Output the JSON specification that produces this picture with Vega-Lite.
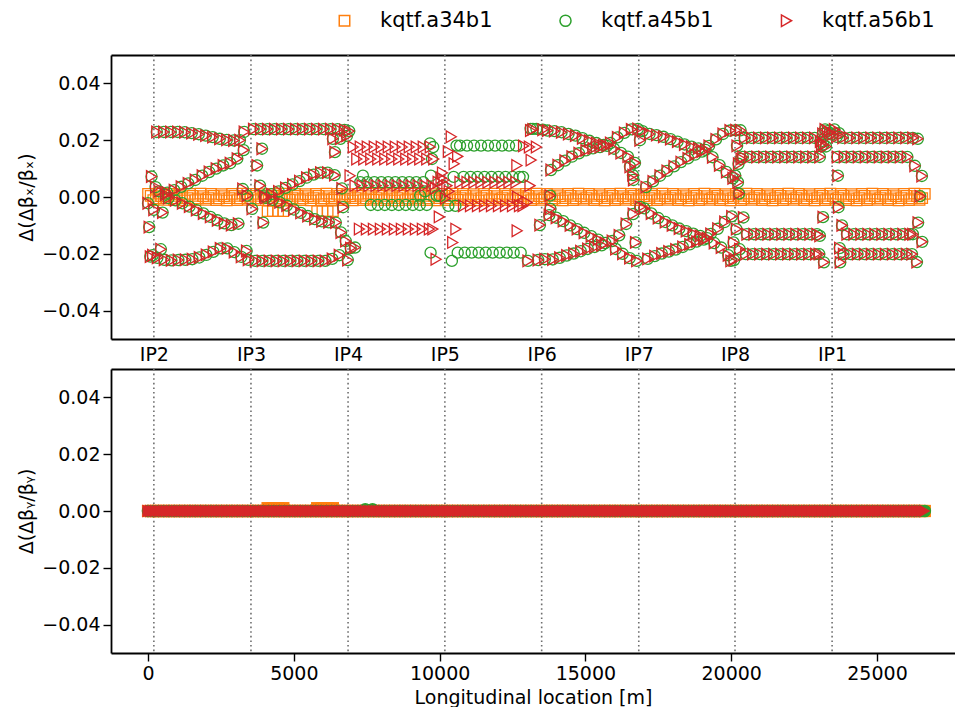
{
  "$schema": "https://vega.github.io/schema/vega-lite/v6.json",
  "background": "white",
  "padding": {"left": 17, "top": 10, "right": 0, "bottom": 0},
  "spacing": 30,
  "bounds": "flush",
  "resolve": {"scale": {"color": "independent", "shape": "independent", "size": "independent"}, "legend": {"color": "independent", "shape": "independent"}},
  "datasets": {
    "ips": [
      {"s": 200, "ip": "IP2"}, {"s": 3530, "ip": "IP3"}, {"s": 6860, "ip": "IP4"}, {"s": 10180, "ip": "IP5"},
      {"s": 13500, "ip": "IP6"}, {"s": 16830, "ip": "IP7"}, {"s": 20130, "ip": "IP8"}, {"s": 23460, "ip": "IP1"}
    ],
    "twiss": [
      {"s":0,"a34":0.0011,"y34":0,"y45":0,"y56":0},{"s":180,"a34":-0.0011,"y34":0,"y45":0,"y56":0},{"s":360,"a34":0.0012,"y34":0,"y45":0,"y56":0},{"s":540,"a34":-0.0010,"y34":0,"y45":0,"y56":0},
      {"s":720,"a34":0.0011,"y34":0,"y45":0,"y56":0},{"s":900,"a34":-0.0011,"y34":0,"y45":0,"y56":0},{"s":1080,"a34":0.0010,"y34":0,"y45":0,"y56":0},{"s":1260,"a34":-0.0012,"y34":0,"y45":0,"y56":0},
      {"s":1440,"a34":0.0011,"y34":0,"y45":0,"y56":0},{"s":1620,"a34":-0.0011,"y34":0,"y45":0,"y56":0},{"s":1800,"a34":0.0012,"y34":0,"y45":0,"y56":0},{"s":1980,"a34":-0.0010,"y34":0,"y45":0,"y56":0},
      {"s":2160,"a34":0.0011,"y34":0,"y45":0,"y56":0},{"s":2340,"a34":-0.0011,"y34":0,"y45":0,"y56":0},{"s":2520,"a34":0.0010,"y34":0,"y45":0,"y56":0},{"s":2700,"a34":-0.0012,"y34":0,"y45":0,"y56":0},
      {"s":2880,"a34":0.0011,"y34":0,"y45":0,"y56":0},{"s":3060,"a34":-0.0011,"y34":0,"y45":0,"y56":0},{"s":3240,"a34":0.0012,"y34":0,"y45":0,"y56":0},{"s":3420,"a34":-0.0010,"y34":0,"y45":0,"y56":0},
      {"s":3600,"a34":0.0011,"y34":0,"y45":0,"y56":0},{"s":3780,"a34":-0.0011,"y34":0,"y45":0,"y56":0},{"s":3960,"a34":0.0010,"y34":0,"y45":0,"y56":0},{"s":4140,"a34":-0.0012,"y34":0,"y45":0,"y56":0},
      {"s":4320,"a34":0.0011,"y34":0,"y45":0,"y56":0},{"s":4500,"a34":-0.0011,"y34":0,"y45":0,"y56":0},{"s":4680,"a34":0.0012,"y34":0,"y45":0,"y56":0},{"s":4860,"a34":-0.0010,"y34":0,"y45":0,"y56":0},
      {"s":5040,"a34":0.0011,"y34":0,"y45":0,"y56":0},{"s":5220,"a34":-0.0011,"y34":0,"y45":0,"y56":0},{"s":5400,"a34":0.0010,"y34":0,"y45":0,"y56":0},{"s":5580,"a34":-0.0012,"y34":0,"y45":0,"y56":0},
      {"s":5760,"a34":0.0011,"y34":0,"y45":0,"y56":0},{"s":5940,"a34":-0.0011,"y34":0,"y45":0,"y56":0},{"s":6120,"a34":0.0012,"y34":0,"y45":0,"y56":0},{"s":6300,"a34":-0.0010,"y34":0,"y45":0,"y56":0},
      {"s":6480,"a34":0.0011,"y34":0,"y45":0,"y56":0},{"s":6660,"a34":-0.0011,"y34":0,"y45":0,"y56":0},{"s":6840,"a34":0.0010,"y34":0,"y45":0,"y56":0},{"s":7020,"a34":-0.0012,"y34":0,"y45":0,"y56":0},
      {"s":7200,"a34":0.0011,"y34":0,"y45":0,"y56":0},{"s":7380,"a34":-0.0011,"y34":0,"y45":0,"y56":0},{"s":7560,"a34":0.0012,"y34":0,"y45":0,"y56":0},{"s":7740,"a34":-0.0010,"y34":0,"y45":0,"y56":0},
      {"s":7920,"a34":0.0011,"y34":0,"y45":0,"y56":0},{"s":8100,"a34":-0.0011,"y34":0,"y45":0,"y56":0},{"s":8280,"a34":0.0010,"y34":0,"y45":0,"y56":0},{"s":8460,"a34":-0.0012,"y34":0,"y45":0,"y56":0},
      {"s":8640,"a34":0.0011,"y34":0,"y45":0,"y56":0},{"s":8820,"a34":-0.0011,"y34":0,"y45":0,"y56":0},{"s":9000,"a34":0.0012,"y34":0,"y45":0,"y56":0},{"s":9180,"a34":-0.0010,"y34":0,"y45":0,"y56":0},
      {"s":9360,"a34":0.0011,"y34":0,"y45":0,"y56":0},{"s":9540,"a34":-0.0011,"y34":0,"y45":0,"y56":0},{"s":9720,"a34":0.0010,"y34":0,"y45":0,"y56":0},{"s":9900,"a34":-0.0012,"y34":0,"y45":0,"y56":0},
      {"s":10080,"a34":0.0011,"y34":0,"y45":0,"y56":0},{"s":10260,"a34":-0.0011,"y34":0,"y45":0,"y56":0},{"s":10440,"a34":0.0012,"y34":0,"y45":0,"y56":0},{"s":10620,"a34":-0.0010,"y34":0,"y45":0,"y56":0},
      {"s":10800,"a34":0.0011,"y34":0,"y45":0,"y56":0},{"s":10980,"a34":-0.0011,"y34":0,"y45":0,"y56":0},{"s":11160,"a34":0.0010,"y34":0,"y45":0,"y56":0},{"s":11340,"a34":-0.0012,"y34":0,"y45":0,"y56":0},
      {"s":11520,"a34":0.0011,"y34":0,"y45":0,"y56":0},{"s":11700,"a34":-0.0011,"y34":0,"y45":0,"y56":0},{"s":11880,"a34":0.0012,"y34":0,"y45":0,"y56":0},{"s":12060,"a34":-0.0010,"y34":0,"y45":0,"y56":0},
      {"s":12240,"a34":0.0011,"y34":0,"y45":0,"y56":0},{"s":12420,"a34":-0.0011,"y34":0,"y45":0,"y56":0},{"s":12600,"a34":0.0010,"y34":0,"y45":0,"y56":0},{"s":12780,"a34":-0.0012,"y34":0,"y45":0,"y56":0},
      {"s":12960,"a34":0.0011,"y34":0,"y45":0,"y56":0},{"s":13140,"a34":-0.0011,"y34":0,"y45":0,"y56":0},{"s":13320,"a34":0.0012,"y34":0,"y45":0,"y56":0},{"s":13500,"a34":-0.0010,"y34":0,"y45":0,"y56":0},
      {"s":13680,"a34":0.0011,"y34":0,"y45":0,"y56":0},{"s":13860,"a34":-0.0011,"y34":0,"y45":0,"y56":0},{"s":14040,"a34":0.0010,"y34":0,"y45":0,"y56":0},{"s":14220,"a34":-0.0012,"y34":0,"y45":0,"y56":0},
      {"s":14400,"a34":0.0011,"y34":0,"y45":0,"y56":0},{"s":14580,"a34":-0.0011,"y34":0,"y45":0,"y56":0},{"s":14760,"a34":0.0012,"y34":0,"y45":0,"y56":0},{"s":14940,"a34":-0.0010,"y34":0,"y45":0,"y56":0},
      {"s":15120,"a34":0.0011,"y34":0,"y45":0,"y56":0},{"s":15300,"a34":-0.0011,"y34":0,"y45":0,"y56":0},{"s":15480,"a34":0.0010,"y34":0,"y45":0,"y56":0},{"s":15660,"a34":-0.0012,"y34":0,"y45":0,"y56":0},
      {"s":15840,"a34":0.0011,"y34":0,"y45":0,"y56":0},{"s":16020,"a34":-0.0011,"y34":0,"y45":0,"y56":0},{"s":16200,"a34":0.0012,"y34":0,"y45":0,"y56":0},{"s":16380,"a34":-0.0010,"y34":0,"y45":0,"y56":0},
      {"s":16560,"a34":0.0011,"y34":0,"y45":0,"y56":0},{"s":16740,"a34":-0.0011,"y34":0,"y45":0,"y56":0},{"s":16920,"a34":0.0010,"y34":0,"y45":0,"y56":0},{"s":17100,"a34":-0.0012,"y34":0,"y45":0,"y56":0},
      {"s":17280,"a34":0.0011,"y34":0,"y45":0,"y56":0},{"s":17460,"a34":-0.0011,"y34":0,"y45":0,"y56":0},{"s":17640,"a34":0.0012,"y34":0,"y45":0,"y56":0},{"s":17820,"a34":-0.0010,"y34":0,"y45":0,"y56":0},
      {"s":18000,"a34":0.0011,"y34":0,"y45":0,"y56":0},{"s":18180,"a34":-0.0011,"y34":0,"y45":0,"y56":0},{"s":18360,"a34":0.0010,"y34":0,"y45":0,"y56":0},{"s":18540,"a34":-0.0012,"y34":0,"y45":0,"y56":0},
      {"s":18720,"a34":0.0011,"y34":0,"y45":0,"y56":0},{"s":18900,"a34":-0.0011,"y34":0,"y45":0,"y56":0},{"s":19080,"a34":0.0012,"y34":0,"y45":0,"y56":0},{"s":19260,"a34":-0.0010,"y34":0,"y45":0,"y56":0},
      {"s":19440,"a34":0.0011,"y34":0,"y45":0,"y56":0},{"s":19620,"a34":-0.0011,"y34":0,"y45":0,"y56":0},{"s":19800,"a34":0.0010,"y34":0,"y45":0,"y56":0},{"s":19980,"a34":-0.0012,"y34":0,"y45":0,"y56":0},
      {"s":20160,"a34":0.0011,"y34":0,"y45":0,"y56":0},{"s":20340,"a34":-0.0011,"y34":0,"y45":0,"y56":0},{"s":20520,"a34":0.0012,"y34":0,"y45":0,"y56":0},{"s":20700,"a34":-0.0010,"y34":0,"y45":0,"y56":0},
      {"s":20880,"a34":0.0011,"y34":0,"y45":0,"y56":0},{"s":21060,"a34":-0.0011,"y34":0,"y45":0,"y56":0},{"s":21240,"a34":0.0010,"y34":0,"y45":0,"y56":0},{"s":21420,"a34":-0.0012,"y34":0,"y45":0,"y56":0},
      {"s":21600,"a34":0.0011,"y34":0,"y45":0,"y56":0},{"s":21780,"a34":-0.0011,"y34":0,"y45":0,"y56":0},{"s":21960,"a34":0.0012,"y34":0,"y45":0,"y56":0},{"s":22140,"a34":-0.0010,"y34":0,"y45":0,"y56":0},
      {"s":22320,"a34":0.0011,"y34":0,"y45":0,"y56":0},{"s":22500,"a34":-0.0011,"y34":0,"y45":0,"y56":0},{"s":22680,"a34":0.0010,"y34":0,"y45":0,"y56":0},{"s":22860,"a34":-0.0012,"y34":0,"y45":0,"y56":0},
      {"s":23040,"a34":0.0011,"y34":0,"y45":0,"y56":0},{"s":23220,"a34":-0.0011,"y34":0,"y45":0,"y56":0},{"s":23400,"a34":0.0012,"y34":0,"y45":0,"y56":0},{"s":23580,"a34":-0.0010,"y34":0,"y45":0,"y56":0},
      {"s":23760,"a34":0.0011,"y34":0,"y45":0,"y56":0},{"s":23940,"a34":-0.0011,"y34":0,"y45":0,"y56":0},{"s":24120,"a34":0.0010,"y34":0,"y45":0,"y56":0},{"s":24300,"a34":-0.0012,"y34":0,"y45":0,"y56":0},
      {"s":24480,"a34":0.0011,"y34":0,"y45":0,"y56":0},{"s":24660,"a34":-0.0011,"y34":0,"y45":0,"y56":0},{"s":24840,"a34":0.0012,"y34":0,"y45":0,"y56":0},{"s":25020,"a34":-0.0010,"y34":0,"y45":0,"y56":0},
      {"s":25200,"a34":0.0011,"y34":0,"y45":0,"y56":0},{"s":25380,"a34":-0.0011,"y34":0,"y45":0,"y56":0},{"s":25560,"a34":0.0010,"y34":0,"y45":0,"y56":0},{"s":25740,"a34":-0.0012,"y34":0,"y45":0,"y56":0},
      {"s":25920,"a34":0.0011,"y34":0,"y45":0,"y56":0},{"s":26100,"a34":-0.0011,"y34":0,"y45":0,"y56":0},{"s":26280,"a34":0.0012,"y34":0,"y45":0,"y56":0},{"s":26460,"a34":-0.0010,"y34":0,"y45":0,"y56":0},
      {"s":26640,"a34":0.0011,"y34":0,"y45":0,"y56":0},

      {"s":90,"a34":0.0004,"y34":0,"y56":0},{"s":270,"a34":-0.0005,"y34":0,"y56":0},{"s":450,"a34":0.0003,"y34":0,"y56":0},{"s":630,"a34":-0.0004,"y34":0,"y56":0},
      {"s":810,"a34":0.0004,"y34":0,"y56":0},{"s":990,"a34":-0.0005,"y34":0,"y56":0},{"s":1170,"a34":0.0003,"y34":0,"y56":0},{"s":1350,"a34":-0.0004,"y34":0,"y56":0},
      {"s":1530,"a34":0.0004,"y34":0,"y56":0},{"s":1710,"a34":-0.0005,"y34":0,"y56":0},{"s":1890,"a34":0.0003,"y34":0,"y56":0},{"s":2070,"a34":-0.0004,"y34":0,"y56":0},
      {"s":2250,"a34":0.0004,"y34":0,"y56":0},{"s":2430,"a34":-0.0005,"y34":0,"y56":0},{"s":2610,"a34":0.0003,"y34":0,"y56":0},{"s":2790,"a34":-0.0004,"y34":0,"y56":0},
      {"s":2970,"a34":0.0004,"y34":0,"y56":0},{"s":3150,"a34":-0.0005,"y34":0,"y56":0},{"s":3330,"a34":0.0003,"y34":0,"y56":0},{"s":3510,"a34":-0.0004,"y34":0,"y56":0},
      {"s":3690,"a34":0.0004,"y34":0,"y56":0},{"s":3870,"a34":-0.0005,"y34":0,"y56":0},{"s":4050,"a34":0.0003,"y34":0,"y56":0},{"s":4230,"a34":-0.0004,"y34":0,"y56":0},
      {"s":4410,"a34":0.0004,"y34":0,"y56":0},{"s":4590,"a34":-0.0005,"y34":0,"y56":0},{"s":4770,"a34":0.0003,"y34":0,"y56":0},{"s":4950,"a34":-0.0004,"y34":0,"y56":0},
      {"s":5130,"a34":0.0004,"y34":0,"y56":0},{"s":5310,"a34":-0.0005,"y34":0,"y56":0},{"s":5490,"a34":0.0003,"y34":0,"y56":0},{"s":5670,"a34":-0.0004,"y34":0,"y56":0},
      {"s":5850,"a34":0.0004,"y34":0,"y56":0},{"s":6030,"a34":-0.0005,"y34":0,"y56":0},{"s":6210,"a34":0.0003,"y34":0,"y56":0},{"s":6390,"a34":-0.0004,"y34":0,"y56":0},
      {"s":6570,"a34":0.0004,"y34":0,"y56":0},{"s":6750,"a34":-0.0005,"y34":0,"y56":0},{"s":6930,"a34":0.0003,"y34":0,"y56":0},{"s":7110,"a34":-0.0004,"y34":0,"y56":0},
      {"s":7290,"a34":0.0004,"y34":0,"y56":0},{"s":7470,"a34":-0.0005,"y34":0,"y56":0},{"s":7650,"a34":0.0003,"y34":0,"y56":0},{"s":7830,"a34":-0.0004,"y34":0,"y56":0},
      {"s":8010,"a34":0.0004,"y34":0,"y56":0},{"s":8190,"a34":-0.0005,"y34":0,"y56":0},{"s":8370,"a34":0.0003,"y34":0,"y56":0},{"s":8550,"a34":-0.0004,"y34":0,"y56":0},
      {"s":8730,"a34":0.0004,"y34":0,"y56":0},{"s":8910,"a34":-0.0005,"y34":0,"y56":0},{"s":9090,"a34":0.0003,"y34":0,"y56":0},{"s":9270,"a34":-0.0004,"y34":0,"y56":0},
      {"s":9450,"a34":0.0004,"y34":0,"y56":0},{"s":9630,"a34":-0.0005,"y34":0,"y56":0},{"s":9810,"a34":0.0003,"y34":0,"y56":0},{"s":9990,"a34":-0.0004,"y34":0,"y56":0},
      {"s":10170,"a34":0.0004,"y34":0,"y56":0},{"s":10350,"a34":-0.0005,"y34":0,"y56":0},{"s":10530,"a34":0.0003,"y34":0,"y56":0},{"s":10710,"a34":-0.0004,"y34":0,"y56":0},
      {"s":10890,"a34":0.0004,"y34":0,"y56":0},{"s":11070,"a34":-0.0005,"y34":0,"y56":0},{"s":11250,"a34":0.0003,"y34":0,"y56":0},{"s":11430,"a34":-0.0004,"y34":0,"y56":0},
      {"s":11610,"a34":0.0004,"y34":0,"y56":0},{"s":11790,"a34":-0.0005,"y34":0,"y56":0},{"s":11970,"a34":0.0003,"y34":0,"y56":0},{"s":12150,"a34":-0.0004,"y34":0,"y56":0},
      {"s":12330,"a34":0.0004,"y34":0,"y56":0},{"s":12510,"a34":-0.0005,"y34":0,"y56":0},{"s":12690,"a34":0.0003,"y34":0,"y56":0},{"s":12870,"a34":-0.0004,"y34":0,"y56":0},
      {"s":13050,"a34":0.0004,"y34":0,"y56":0},{"s":13230,"a34":-0.0005,"y34":0,"y56":0},{"s":13410,"a34":0.0003,"y34":0,"y56":0},{"s":13590,"a34":-0.0004,"y34":0,"y56":0},
      {"s":13770,"a34":0.0004,"y34":0,"y56":0},{"s":13950,"a34":-0.0005,"y34":0,"y56":0},{"s":14130,"a34":0.0003,"y34":0,"y56":0},{"s":14310,"a34":-0.0004,"y34":0,"y56":0},
      {"s":14490,"a34":0.0004,"y34":0,"y56":0},{"s":14670,"a34":-0.0005,"y34":0,"y56":0},{"s":14850,"a34":0.0003,"y34":0,"y56":0},{"s":15030,"a34":-0.0004,"y34":0,"y56":0},
      {"s":15210,"a34":0.0004,"y34":0,"y56":0},{"s":15390,"a34":-0.0005,"y34":0,"y56":0},{"s":15570,"a34":0.0003,"y34":0,"y56":0},{"s":15750,"a34":-0.0004,"y34":0,"y56":0},
      {"s":15930,"a34":0.0004,"y34":0,"y56":0},{"s":16110,"a34":-0.0005,"y34":0,"y56":0},{"s":16290,"a34":0.0003,"y34":0,"y56":0},{"s":16470,"a34":-0.0004,"y34":0,"y56":0},
      {"s":16650,"a34":0.0004,"y34":0,"y56":0},{"s":16830,"a34":-0.0005,"y34":0,"y56":0},{"s":17010,"a34":0.0003,"y34":0,"y56":0},{"s":17190,"a34":-0.0004,"y34":0,"y56":0},
      {"s":17370,"a34":0.0004,"y34":0,"y56":0},{"s":17550,"a34":-0.0005,"y34":0,"y56":0},{"s":17730,"a34":0.0003,"y34":0,"y56":0},{"s":17910,"a34":-0.0004,"y34":0,"y56":0},
      {"s":18090,"a34":0.0004,"y34":0,"y56":0},{"s":18270,"a34":-0.0005,"y34":0,"y56":0},{"s":18450,"a34":0.0003,"y34":0,"y56":0},{"s":18630,"a34":-0.0004,"y34":0,"y56":0},
      {"s":18810,"a34":0.0004,"y34":0,"y56":0},{"s":18990,"a34":-0.0005,"y34":0,"y56":0},{"s":19170,"a34":0.0003,"y34":0,"y56":0},{"s":19350,"a34":-0.0004,"y34":0,"y56":0},
      {"s":19530,"a34":0.0004,"y34":0,"y56":0},{"s":19710,"a34":-0.0005,"y34":0,"y56":0},{"s":19890,"a34":0.0003,"y34":0,"y56":0},{"s":20070,"a34":-0.0004,"y34":0,"y56":0},
      {"s":20250,"a34":0.0004,"y34":0,"y56":0},{"s":20430,"a34":-0.0005,"y34":0,"y56":0},{"s":20610,"a34":0.0003,"y34":0,"y56":0},{"s":20790,"a34":-0.0004,"y34":0,"y56":0},
      {"s":20970,"a34":0.0004,"y34":0,"y56":0},{"s":21150,"a34":-0.0005,"y34":0,"y56":0},{"s":21330,"a34":0.0003,"y34":0,"y56":0},{"s":21510,"a34":-0.0004,"y34":0,"y56":0},
      {"s":21690,"a34":0.0004,"y34":0,"y56":0},{"s":21870,"a34":-0.0005,"y34":0,"y56":0},{"s":22050,"a34":0.0003,"y34":0,"y56":0},{"s":22230,"a34":-0.0004,"y34":0,"y56":0},
      {"s":22410,"a34":0.0004,"y34":0,"y56":0},{"s":22590,"a34":-0.0005,"y34":0,"y56":0},{"s":22770,"a34":0.0003,"y34":0,"y56":0},{"s":22950,"a34":-0.0004,"y34":0,"y56":0},
      {"s":23130,"a34":0.0004,"y34":0,"y56":0},{"s":23310,"a34":-0.0005,"y34":0,"y56":0},{"s":23490,"a34":0.0003,"y34":0,"y56":0},{"s":23670,"a34":-0.0004,"y34":0,"y56":0},
      {"s":23850,"a34":0.0004,"y34":0,"y56":0},{"s":24030,"a34":-0.0005,"y34":0,"y56":0},{"s":24210,"a34":0.0003,"y34":0,"y56":0},{"s":24390,"a34":-0.0004,"y34":0,"y56":0},
      {"s":24570,"a34":0.0004,"y34":0,"y56":0},{"s":24750,"a34":-0.0005,"y34":0,"y56":0},{"s":24930,"a34":0.0003,"y34":0,"y56":0},{"s":25110,"a34":-0.0004,"y34":0,"y56":0},
      {"s":25290,"a34":0.0004,"y34":0,"y56":0},{"s":25470,"a34":-0.0005,"y34":0,"y56":0},{"s":25650,"a34":0.0003,"y34":0,"y56":0},{"s":25830,"a34":-0.0004,"y34":0,"y56":0},
      {"s":26010,"a34":0.0004,"y34":0,"y56":0},{"s":26190,"a34":-0.0005,"y34":0,"y56":0},{"s":26370,"a34":0.0003,"y34":0,"y56":0},{"s":26550,"a34":-0.0004,"y34":0,"y56":0},

      {"s":4100,"a34":-0.0050,"y34":0.0010},{"s":4280,"a34":-0.0050,"y34":0.0010},{"s":4460,"a34":-0.0050,"y34":0.0010},{"s":4640,"a34":-0.0050,"y34":0.0010},
      {"s":5800,"a34":-0.0050,"y34":0.0010},{"s":5980,"a34":-0.0050,"y34":0.0010},{"s":6160,"a34":-0.0050,"y34":0.0010},{"s":6340,"a34":-0.0050,"y34":0.0010},
      {"s":7450,"y45":0.0006},{"s":7700,"y45":0.0006},

      {"s":300,"a45":0.0229,"a56":0.0229},{"s":540,"a45":0.0229,"a56":0.0229},{"s":780,"a45":0.0229,"a56":0.0229},{"s":1020,"a45":0.0229,"a56":0.0229},
      {"s":1260,"a45":0.0228,"a56":0.0228},{"s":1500,"a45":0.0225,"a56":0.0225},{"s":1740,"a45":0.0221,"a56":0.0221},{"s":1980,"a45":0.0216,"a56":0.0216},
      {"s":2220,"a45":0.0211,"a56":0.0211},{"s":2460,"a45":0.0205,"a56":0.0205},{"s":2700,"a45":0.0201,"a56":0.0201},{"s":2940,"a45":0.0199,"a56":0.0199},
      {"s":3150,"a45":0.0200,"a56":0.0200},{"s":3300,"a45":0.0229,"a56":0.0229},
      {"s":660,"a45":0.0015,"a56":0.0015},{"s":900,"a45":0.0024,"a56":0.0024},{"s":1140,"a45":0.0036,"a56":0.0036},{"s":1380,"a45":0.0048,"a56":0.0048},
      {"s":1620,"a45":0.0060,"a56":0.0060},{"s":1860,"a45":0.0075,"a56":0.0075},{"s":2100,"a45":0.0088,"a56":0.0088},{"s":2340,"a45":0.0100,"a56":0.0100},
      {"s":2580,"a45":0.0111,"a56":0.0111},{"s":2820,"a45":0.0119,"a56":0.0119},{"s":3060,"a45":0.0135,"a56":0.0135},{"s":3280,"a45":0.0165,"a56":0.0165},
      {"s":700,"a45":-0.0004,"a56":-0.0004},{"s":940,"a45":-0.0012,"a56":-0.0012},{"s":1180,"a45":-0.0022,"a56":-0.0022},{"s":1420,"a45":-0.0034,"a56":-0.0034},
      {"s":1660,"a45":-0.0046,"a56":-0.0046},{"s":1900,"a45":-0.0058,"a56":-0.0058},{"s":2140,"a45":-0.0070,"a56":-0.0070},{"s":2380,"a45":-0.0082,"a56":-0.0082},
      {"s":2620,"a45":-0.0093,"a56":-0.0093},{"s":2860,"a45":-0.0099,"a56":-0.0099},{"s":3100,"a45":-0.0094,"a56":-0.0094},
      {"s":80,"a45":-0.0210,"a56":-0.0210},{"s":320,"a45":-0.0214,"a56":-0.0214},{"s":560,"a45":-0.0221,"a56":-0.0221},{"s":800,"a45":-0.0223,"a56":-0.0223},
      {"s":1040,"a45":-0.0222,"a56":-0.0222},{"s":1280,"a45":-0.0221,"a56":-0.0221},{"s":1520,"a45":-0.0219,"a56":-0.0219},{"s":1760,"a45":-0.0213,"a56":-0.0213},
      {"s":2000,"a45":-0.0204,"a56":-0.0204},{"s":2240,"a45":-0.0193,"a56":-0.0193},{"s":2480,"a45":-0.0181,"a56":-0.0181},{"s":2720,"a45":-0.0181,"a56":-0.0181},
      {"s":2960,"a45":-0.0194,"a56":-0.0194},{"s":3200,"a45":-0.0211,"a56":-0.0211},{"s":3440,"a45":-0.0221,"a56":-0.0221},
      {"s":0,"a45":-0.0022,"a56":-0.0022},{"s":40,"a45":-0.0106,"a56":-0.0106},{"s":120,"a45":0.0072,"a56":0.0072},{"s":200,"a45":-0.0045,"a56":-0.0045},
      {"s":260,"a45":0.0035,"a56":0.0035},{"s":380,"a45":0.0020,"a56":0.0020},{"s":440,"a45":-0.0184,"a56":-0.0184},{"s":500,"a45":-0.0055,"a56":-0.0055},
      {"s":600,"a45":0.0008,"a56":0.0008},{"s":160,"a45":-0.0205,"a56":-0.0205},
      {"s":3250,"a45":0.0028,"a56":0.0028},{"s":3400,"a45":0.0005,"a56":0.0005},{"s":3380,"a45":-0.0190,"a56":-0.0190},{"s":3570,"a45":-0.0042,"a56":-0.0042},
      {"s":3740,"a45":0.0111,"a56":0.0111},{"s":3840,"a45":0.0040,"a56":0.0040},{"s":3910,"a45":0.0170,"a56":0.0170},{"s":3950,"a45":-0.0090,"a56":-0.0090},

      {"s":3620,"a45":0.0239,"a56":0.0239},{"s":3860,"a45":0.0239,"a56":0.0239},{"s":4100,"a45":0.0239,"a56":0.0239},{"s":4340,"a45":0.0239,"a56":0.0239},
      {"s":4580,"a45":0.0239,"a56":0.0239},{"s":4820,"a45":0.0239,"a56":0.0239},{"s":5060,"a45":0.0239,"a56":0.0239},{"s":5300,"a45":0.0239,"a56":0.0239},
      {"s":5540,"a45":0.0239,"a56":0.0239},{"s":5780,"a45":0.0239,"a56":0.0239},{"s":6020,"a45":0.0239,"a56":0.0239},{"s":6260,"a45":0.0239,"a56":0.0239},
      {"s":6500,"a45":0.0239,"a56":0.0239},{"s":6740,"a45":0.0236,"a56":0.0236},{"s":6900,"a45":0.0232,"a56":0.0232},
      {"s":4000,"a45":0.0002,"a56":0.0002},{"s":4240,"a45":0.0010,"a56":0.0010},{"s":4480,"a45":0.0020,"a56":0.0020},{"s":4720,"a45":0.0032,"a56":0.0032},
      {"s":4960,"a45":0.0044,"a56":0.0044},{"s":5200,"a45":0.0056,"a56":0.0056},{"s":5440,"a45":0.0068,"a56":0.0068},{"s":5680,"a45":0.0079,"a56":0.0079},
      {"s":5920,"a45":0.0086,"a56":0.0086},{"s":6160,"a45":0.0086,"a56":0.0086},{"s":6400,"a45":0.0077,"a56":0.0077},
      {"s":4040,"a45":-0.0003,"a56":-0.0003},{"s":4280,"a45":-0.0010,"a56":-0.0010},{"s":4520,"a45":-0.0019,"a56":-0.0019},{"s":4760,"a45":-0.0030,"a56":-0.0030},
      {"s":5000,"a45":-0.0044,"a56":-0.0044},{"s":5240,"a45":-0.0056,"a56":-0.0056},{"s":5480,"a45":-0.0067,"a56":-0.0067},{"s":5720,"a45":-0.0078,"a56":-0.0078},
      {"s":5960,"a45":-0.0086,"a56":-0.0086},{"s":6200,"a45":-0.0089,"a56":-0.0089},{"s":6440,"a45":-0.0090,"a56":-0.0090},{"s":6620,"a45":-0.0125,"a56":-0.0125},
      {"s":6780,"a45":-0.0155,"a56":-0.0155},{"s":6950,"a45":-0.0180,"a56":-0.0180},{"s":7100,"a45":-0.0178,"a56":-0.0178},
      {"s":3680,"a45":-0.0225,"a56":-0.0225},{"s":3920,"a45":-0.0225,"a56":-0.0225},{"s":4160,"a45":-0.0225,"a56":-0.0225},{"s":4400,"a45":-0.0225,"a56":-0.0225},
      {"s":4640,"a45":-0.0225,"a56":-0.0225},{"s":4880,"a45":-0.0225,"a56":-0.0225},{"s":5120,"a45":-0.0225,"a56":-0.0225},{"s":5360,"a45":-0.0225,"a56":-0.0225},
      {"s":5600,"a45":-0.0225,"a56":-0.0225},{"s":5840,"a45":-0.0225,"a56":-0.0225},{"s":6080,"a45":-0.0225,"a56":-0.0225},{"s":6320,"a45":-0.0218,"a56":-0.0218},
      {"s":6560,"a45":-0.0205,"a56":-0.0205},{"s":6850,"a45":-0.0222,"a56":-0.0222},
      {"s":6340,"a45":0.0205,"a56":0.0205},{"s":6410,"a45":0.0158,"a56":0.0158},{"s":6650,"a45":0.0030,"a56":0.0030},{"s":6690,"a45":-0.0036,"a56":-0.0036},
      {"s":6820,"a45":0.0215,"a56":0.0215},{"s":6600,"a45":0.0205,"a56":0.0205},

      {"s":7040,"a56":0.0176},{"s":7280,"a45":0.0052,"a56":0.0176},{"s":7520,"a45":0.0052,"a56":0.0176},{"s":7760,"a45":0.0052,"a56":0.0176},
      {"s":8000,"a45":0.0052,"a56":0.0176},{"s":8240,"a45":0.0052,"a56":0.0176},{"s":8480,"a45":0.0052,"a56":0.0176},{"s":8720,"a45":0.0052,"a56":0.0176},
      {"s":8960,"a45":0.0052,"a56":0.0176},{"s":9200,"a45":0.0052,"a56":0.0176},{"s":9440,"a45":0.0052,"a56":0.0176},{"s":9680,"a56":0.0176},
      {"s":7160,"a56":0.0134},{"s":7400,"a56":0.0134},{"s":7640,"a45":-0.0028,"a56":0.0134},{"s":7880,"a45":-0.0028,"a56":0.0134},
      {"s":8120,"a45":-0.0028,"a56":0.0134},{"s":8360,"a45":-0.0028,"a56":0.0134},{"s":8600,"a45":-0.0028,"a56":0.0134},{"s":8840,"a45":-0.0028,"a56":0.0134},
      {"s":9080,"a45":-0.0028,"a56":0.0134},{"s":9320,"a45":-0.0028,"a56":0.0134},{"s":9560,"a45":-0.0028,"a56":0.0134},{"s":9800,"a56":0.0134},
      {"s":7100,"a56":0.0040},{"s":7340,"a56":0.0040},{"s":7580,"a56":0.0040},{"s":7820,"a56":0.0040},{"s":8060,"a56":0.0040},{"s":8300,"a56":0.0040},
      {"s":8540,"a56":0.0040},{"s":8780,"a56":0.0040},{"s":9020,"a56":0.0040},{"s":9260,"a56":0.0040},{"s":9500,"a45":0.0020,"a56":0.0040},{"s":9740,"a45":0.0134,"a56":0.0040},
      {"s":7250,"a56":-0.0113},{"s":7490,"a56":-0.0113},{"s":7730,"a56":-0.0113},{"s":7970,"a56":-0.0113},{"s":8210,"a56":-0.0113},{"s":8450,"a56":-0.0113},
      {"s":8690,"a56":-0.0113},{"s":8930,"a56":-0.0113},{"s":9170,"a56":-0.0113},{"s":9410,"a56":-0.0113},{"s":9650,"a56":-0.0113},{"s":9770,"a56":-0.0113},
      {"s":6930,"a56":0.0075},{"s":9850,"a56":0.0030},{"s":9950,"a56":0.0052},{"s":10050,"a56":0.0068},{"s":10150,"a56":0.0060},{"s":10250,"a56":0.0040},
      {"s":10330,"a56":0.0020},{"s":10400,"a56":0.0212},{"s":10500,"a56":0.0117},{"s":10560,"a56":-0.0113},{"s":10450,"a56":-0.0160},{"s":9880,"a56":-0.0219},
      {"s":9990,"a56":-0.0070},{"s":10100,"a45":0.0040,"a56":0.0085},{"s":10200,"a56":-0.0005},
      {"s":7370,"a45":0.0075},{"s":9670,"a45":0.0189},{"s":9780,"a45":0.0176},{"s":9700,"a45":0.0075},{"s":9330,"a45":0.0005},{"s":9690,"a45":-0.0196},
      {"s":10420,"a45":-0.0225},{"s":10010,"a45":0.0003},{"s":9900,"a45":0.0005},

      {"s":10700,"a45":0.0181,"a56":0.0052},{"s":10940,"a45":0.0181,"a56":0.0052},{"s":11180,"a45":0.0181,"a56":0.0052},{"s":11420,"a45":0.0181,"a56":0.0052},
      {"s":11660,"a45":0.0181,"a56":0.0052},{"s":11900,"a45":0.0181,"a56":0.0052},{"s":12140,"a45":0.0181,"a56":0.0052},{"s":12380,"a45":0.0181,"a56":0.0052},
      {"s":12620,"a45":0.0181,"a56":0.0052},
      {"s":10820,"a45":0.0071,"a56":-0.0031},{"s":11060,"a45":0.0071,"a56":-0.0031},{"s":11300,"a45":0.0071,"a56":-0.0031},{"s":11540,"a45":0.0071,"a56":-0.0031},
      {"s":11780,"a45":0.0071,"a56":-0.0031},{"s":12020,"a45":0.0071,"a56":-0.0031},{"s":12260,"a45":0.0071,"a56":-0.0031},{"s":12500,"a45":0.0071,"a56":-0.0031},
      {"s":12740,"a45":0.0071,"a56":-0.0031},{"s":12860,"a45":0.0071,"a56":-0.0031},{"s":10480,"a45":0.0071},{"s":10580,"a45":0.0181},
      {"s":10620,"a45":-0.0196,"a56":0.0143},{"s":10860,"a45":-0.0196},{"s":11100,"a45":-0.0196},{"s":11340,"a45":-0.0196},{"s":11580,"a45":-0.0196},
      {"s":11820,"a45":-0.0196},{"s":12060,"a45":-0.0196},{"s":12300,"a45":-0.0196},{"s":12540,"a45":-0.0196},{"s":12780,"a45":-0.0196},
      {"s":10300,"a45":-0.0031,"a56":0.0160},{"s":10540,"a45":-0.0031},
      {"s":12650,"a56":0.0111},{"s":12660,"a56":-0.0119},{"s":13100,"a56":0.0040},{"s":12670,"a56":0.0000},{"s":13000,"a56":-0.0019},{"s":12880,"a56":0.0180},
      {"s":13080,"a56":0.0176},{"s":13320,"a45":0.0240,"a56":0.0176},{"s":13120,"a45":0.0240,"a56":0.0234},{"s":13030,"a45":-0.0225,"a56":-0.0225},{"s":13140,"a56":0.0130},
      {"s":13200,"a45":0.0240,"a56":0.0238},
      {"s":13540,"a45":0.0237,"a56":0.0237},{"s":13440,"a45":-0.0099,"a56":-0.0099},{"s":13610,"a45":-0.0219,"a56":-0.0219},{"s":13790,"a45":0.0005,"a56":0.0005},
      {"s":13800,"a45":-0.0042,"a56":-0.0042},{"s":13380,"a45":-0.0222,"a56":-0.0222},

      {"s":13700,"a45":0.0234,"a56":0.0234},{"s":13940,"a45":0.0232,"a56":0.0232},{"s":14180,"a45":0.0228,"a56":0.0228},{"s":14420,"a45":0.0222,"a56":0.0222},
      {"s":14660,"a45":0.0216,"a56":0.0216},{"s":14900,"a45":0.0207,"a56":0.0207},{"s":15140,"a45":0.0198,"a56":0.0198},{"s":15380,"a45":0.0190,"a56":0.0190},
      {"s":15620,"a45":0.0183,"a56":0.0183},
      {"s":13820,"a45":0.0095,"a56":0.0095},{"s":14060,"a45":0.0112,"a56":0.0112},{"s":14300,"a45":0.0128,"a56":0.0128},{"s":14540,"a45":0.0142,"a56":0.0142},
      {"s":14780,"a45":0.0154,"a56":0.0154},{"s":15020,"a45":0.0164,"a56":0.0164},{"s":15260,"a45":0.0171,"a56":0.0171},{"s":15500,"a45":0.0176,"a56":0.0176},
      {"s":15740,"a45":0.0180,"a56":0.0180},
      {"s":15860,"a45":0.0190,"a56":0.0190},{"s":16100,"a45":0.0210,"a56":0.0210},{"s":16340,"a45":0.0226,"a56":0.0226},{"s":16580,"a45":0.0238,"a56":0.0238},
      {"s":15980,"a45":0.0170,"a56":0.0170},{"s":16220,"a45":0.0155,"a56":0.0155},{"s":16460,"a45":0.0142,"a56":0.0142},{"s":16700,"a45":0.0120,"a56":0.0120},
      {"s":16530,"a45":0.0106,"a56":0.0106},{"s":16630,"a45":0.0077,"a56":0.0077},{"s":16650,"a45":0.0060,"a56":0.0060},{"s":16720,"a45":-0.0160,"a56":-0.0160},
      {"s":16800,"a45":0.0240,"a56":0.0240},{"s":16870,"a45":0.0200,"a56":0.0200},{"s":16880,"a45":-0.0035,"a56":-0.0035},
      {"s":13760,"a45":-0.0064,"a56":-0.0064},{"s":14000,"a45":-0.0073,"a56":-0.0073},{"s":14240,"a45":-0.0085,"a56":-0.0085},{"s":14480,"a45":-0.0100,"a56":-0.0100},
      {"s":14720,"a45":-0.0113,"a56":-0.0113},{"s":14960,"a45":-0.0126,"a56":-0.0126},{"s":15200,"a45":-0.0138,"a56":-0.0138},{"s":15440,"a45":-0.0150,"a56":-0.0150},
      {"s":15680,"a45":-0.0162,"a56":-0.0162},
      {"s":13880,"a45":-0.0220,"a56":-0.0220},{"s":14120,"a45":-0.0214,"a56":-0.0214},{"s":14360,"a45":-0.0206,"a56":-0.0206},{"s":14600,"a45":-0.0199,"a56":-0.0199},
      {"s":14840,"a45":-0.0191,"a56":-0.0191},{"s":15080,"a45":-0.0183,"a56":-0.0183},{"s":15320,"a45":-0.0176,"a56":-0.0176},{"s":15560,"a45":-0.0170,"a56":-0.0170},
      {"s":15920,"a45":-0.0155,"a56":-0.0155},{"s":16160,"a45":-0.0135,"a56":-0.0135},{"s":16400,"a45":-0.0095,"a56":-0.0095},{"s":16640,"a45":-0.0060,"a56":-0.0060},
      {"s":16040,"a45":-0.0183,"a56":-0.0183},{"s":16280,"a45":-0.0200,"a56":-0.0200},{"s":16520,"a45":-0.0215,"a56":-0.0215},{"s":16760,"a45":-0.0225,"a56":-0.0225},

      {"s":16960,"a45":0.0232,"a56":0.0232},{"s":17200,"a45":0.0222,"a56":0.0222},{"s":17440,"a45":0.0218,"a56":0.0218},{"s":17680,"a45":0.0212,"a56":0.0212},
      {"s":17920,"a45":0.0204,"a56":0.0204},{"s":18160,"a45":0.0195,"a56":0.0195},{"s":18400,"a45":0.0185,"a56":0.0185},{"s":18640,"a45":0.0177,"a56":0.0177},
      {"s":18880,"a45":0.0171,"a56":0.0171},{"s":19120,"a45":0.0166,"a56":0.0166},
      {"s":17080,"a45":0.0035,"a56":0.0035},{"s":17320,"a45":0.0055,"a56":0.0055},{"s":17560,"a45":0.0075,"a56":0.0075},{"s":17800,"a45":0.0092,"a56":0.0092},
      {"s":18040,"a45":0.0108,"a56":0.0108},{"s":18280,"a45":0.0123,"a56":0.0123},{"s":18520,"a45":0.0136,"a56":0.0136},{"s":18760,"a45":0.0149,"a56":0.0149},
      {"s":19000,"a45":0.0160,"a56":0.0160},
      {"s":19240,"a45":0.0180,"a56":0.0180},{"s":19480,"a45":0.0203,"a56":0.0203},{"s":19720,"a45":0.0222,"a56":0.0222},{"s":19960,"a45":0.0234,"a56":0.0234},
      {"s":19360,"a45":0.0140,"a56":0.0140},{"s":19600,"a45":0.0112,"a56":0.0112},{"s":19840,"a45":0.0088,"a56":0.0088},{"s":20060,"a45":0.0066,"a56":0.0066},
      {"s":17020,"a45":-0.0040,"a56":-0.0040},{"s":17260,"a45":-0.0058,"a56":-0.0058},{"s":17500,"a45":-0.0074,"a56":-0.0074},{"s":17740,"a45":-0.0088,"a56":-0.0088},
      {"s":17980,"a45":-0.0100,"a56":-0.0100},{"s":18220,"a45":-0.0111,"a56":-0.0111},{"s":18460,"a45":-0.0120,"a56":-0.0120},{"s":18700,"a45":-0.0129,"a56":-0.0129},
      {"s":18940,"a45":-0.0137,"a56":-0.0137},{"s":19180,"a45":-0.0145,"a56":-0.0145},
      {"s":17140,"a45":-0.0218,"a56":-0.0218},{"s":17380,"a45":-0.0208,"a56":-0.0208},{"s":17620,"a45":-0.0199,"a56":-0.0199},{"s":17860,"a45":-0.0192,"a56":-0.0192},
      {"s":18100,"a45":-0.0185,"a56":-0.0185},{"s":18340,"a45":-0.0176,"a56":-0.0176},{"s":18580,"a45":-0.0167,"a56":-0.0167},{"s":18820,"a45":-0.0157,"a56":-0.0157},
      {"s":19060,"a45":-0.0150,"a56":-0.0150},
      {"s":19300,"a45":-0.0130,"a56":-0.0130},{"s":19540,"a45":-0.0112,"a56":-0.0112},{"s":19780,"a45":-0.0088,"a56":-0.0088},{"s":20020,"a45":-0.0068,"a56":-0.0068},
      {"s":19420,"a45":-0.0162,"a56":-0.0162},{"s":19660,"a45":-0.0178,"a56":-0.0178},{"s":19900,"a45":-0.0205,"a56":-0.0205},{"s":20100,"a45":-0.0222,"a56":-0.0222},
      {"s":20140,"a45":0.0075,"a56":0.0075},{"s":20160,"a45":0.0235,"a56":0.0235},{"s":20180,"a45":-0.0113,"a56":-0.0113},{"s":20200,"a45":0.0180,"a56":0.0180},
      {"s":20230,"a45":0.0052,"a56":0.0052},{"s":20250,"a45":0.0117,"a56":0.0117},{"s":20270,"a45":0.0012,"a56":0.0012},{"s":20290,"a45":-0.0184,"a56":-0.0184},
      {"s":20320,"a45":0.0235,"a56":0.0235},{"s":20340,"a45":0.0134,"a56":0.0134},{"s":20420,"a45":-0.0072,"a56":-0.0072},{"s":20080,"a45":-0.0160,"a56":-0.0160},
      {"s":19990,"a45":-0.0225,"a56":-0.0225},

      {"s":20460,"a45":0.0208,"a56":0.0208},{"s":20700,"a45":0.0208,"a56":0.0208},{"s":20940,"a45":0.0208,"a56":0.0208},{"s":21180,"a45":0.0208,"a56":0.0208},
      {"s":21420,"a45":0.0208,"a56":0.0208},{"s":21660,"a45":0.0208,"a56":0.0208},{"s":21900,"a45":0.0208,"a56":0.0208},{"s":22140,"a45":0.0208,"a56":0.0208},
      {"s":22380,"a45":0.0208,"a56":0.0208},{"s":22620,"a45":0.0208,"a56":0.0208},{"s":22860,"a45":0.0208,"a56":0.0208},
      {"s":20400,"a45":0.0141,"a56":0.0141},{"s":20640,"a45":0.0141,"a56":0.0141},{"s":20880,"a45":0.0141,"a56":0.0141},{"s":21120,"a45":0.0141,"a56":0.0141},
      {"s":21360,"a45":0.0141,"a56":0.0141},{"s":21600,"a45":0.0141,"a56":0.0141},{"s":21840,"a45":0.0141,"a56":0.0141},{"s":22080,"a45":0.0141,"a56":0.0141},
      {"s":22320,"a45":0.0141,"a56":0.0141},{"s":22560,"a45":0.0141,"a56":0.0141},{"s":22800,"a45":0.0141,"a56":0.0141},{"s":23040,"a45":0.0141,"a56":0.0141},
      {"s":20540,"a45":-0.0131,"a56":-0.0131},{"s":20780,"a45":-0.0131,"a56":-0.0131},{"s":21020,"a45":-0.0131,"a56":-0.0131},{"s":21260,"a45":-0.0131,"a56":-0.0131},
      {"s":21500,"a45":-0.0131,"a56":-0.0131},{"s":21740,"a45":-0.0131,"a56":-0.0131},{"s":21980,"a45":-0.0131,"a56":-0.0131},{"s":22220,"a45":-0.0131,"a56":-0.0131},
      {"s":22460,"a45":-0.0131,"a56":-0.0131},{"s":22700,"a45":-0.0131,"a56":-0.0131},{"s":22940,"a45":-0.0131,"a56":-0.0131},
      {"s":20500,"a45":-0.0201,"a56":-0.0201},{"s":20740,"a45":-0.0201,"a56":-0.0201},{"s":20980,"a45":-0.0201,"a56":-0.0201},{"s":21220,"a45":-0.0201,"a56":-0.0201},
      {"s":21460,"a45":-0.0201,"a56":-0.0201},{"s":21700,"a45":-0.0201,"a56":-0.0201},{"s":21940,"a45":-0.0201,"a56":-0.0201},{"s":22180,"a45":-0.0201,"a56":-0.0201},
      {"s":22420,"a45":-0.0201,"a56":-0.0201},{"s":22660,"a45":-0.0201,"a56":-0.0201},{"s":22900,"a45":-0.0201,"a56":-0.0201},{"s":23020,"a45":-0.0201,"a56":-0.0201},
      {"s":23060,"a45":0.0195,"a56":0.0195},{"s":23100,"a45":0.0180,"a56":0.0180},{"s":23140,"a45":0.0222,"a56":0.0222},{"s":23160,"a45":0.0185,"a56":0.0185},
      {"s":23220,"a45":0.0238,"a56":0.0238},{"s":23250,"a45":0.0178,"a56":0.0178},{"s":23300,"a45":0.0232,"a56":0.0232},{"s":23380,"a45":0.0226,"a56":0.0226},
      {"s":23460,"a45":0.0220,"a56":0.0220},{"s":23540,"a45":0.0238,"a56":0.0238},{"s":23620,"a45":0.0212,"a56":0.0212},{"s":23700,"a45":0.0225,"a56":0.0225},
      {"s":23150,"a45":-0.0071,"a56":-0.0071},{"s":23040,"a45":-0.0137,"a56":-0.0137},{"s":23180,"a45":-0.0230,"a56":-0.0230},

      {"s":23830,"a45":0.0208,"a56":0.0208},{"s":24070,"a45":0.0208,"a56":0.0208},{"s":24310,"a45":0.0208,"a56":0.0208},{"s":24550,"a45":0.0208,"a56":0.0208},
      {"s":24790,"a45":0.0208,"a56":0.0208},{"s":25030,"a45":0.0208,"a56":0.0208},{"s":25270,"a45":0.0208,"a56":0.0208},{"s":25510,"a45":0.0208,"a56":0.0208},
      {"s":25750,"a45":0.0208,"a56":0.0208},{"s":25990,"a45":0.0208,"a56":0.0208},{"s":26230,"a45":0.0208,"a56":0.0208},{"s":26400,"a45":0.0205,"a56":0.0205},
      {"s":23640,"a45":0.0141,"a56":0.0141},{"s":23880,"a45":0.0141,"a56":0.0141},{"s":24120,"a45":0.0141,"a56":0.0141},{"s":24360,"a45":0.0141,"a56":0.0141},
      {"s":24600,"a45":0.0141,"a56":0.0141},{"s":24840,"a45":0.0141,"a56":0.0141},{"s":25080,"a45":0.0141,"a56":0.0141},{"s":25320,"a45":0.0141,"a56":0.0141},
      {"s":25560,"a45":0.0141,"a56":0.0141},{"s":25800,"a45":0.0141,"a56":0.0141},{"s":26040,"a45":0.0141,"a56":0.0141},
      {"s":23970,"a45":-0.0131,"a56":-0.0131},{"s":24210,"a45":-0.0131,"a56":-0.0131},{"s":24450,"a45":-0.0131,"a56":-0.0131},{"s":24690,"a45":-0.0131,"a56":-0.0131},
      {"s":24930,"a45":-0.0131,"a56":-0.0131},{"s":25170,"a45":-0.0131,"a56":-0.0131},{"s":25410,"a45":-0.0131,"a56":-0.0131},{"s":25650,"a45":-0.0131,"a56":-0.0131},
      {"s":25890,"a45":-0.0131,"a56":-0.0131},{"s":26130,"a45":-0.0131,"a56":-0.0131},{"s":26230,"a45":-0.0131,"a56":-0.0131},
      {"s":23850,"a45":-0.0201,"a56":-0.0201},{"s":24090,"a45":-0.0201,"a56":-0.0201},{"s":24330,"a45":-0.0201,"a56":-0.0201},{"s":24570,"a45":-0.0201,"a56":-0.0201},
      {"s":24810,"a45":-0.0201,"a56":-0.0201},{"s":25050,"a45":-0.0201,"a56":-0.0201},{"s":25290,"a45":-0.0201,"a56":-0.0201},{"s":25530,"a45":-0.0201,"a56":-0.0201},
      {"s":25770,"a45":-0.0201,"a56":-0.0201},{"s":26010,"a45":-0.0201,"a56":-0.0201},{"s":26200,"a45":-0.0201,"a56":-0.0201},
      {"s":23660,"a45":0.0075,"a56":0.0075},{"s":23680,"a45":-0.0036,"a56":-0.0036},{"s":23800,"a45":-0.0100,"a56":-0.0100},{"s":23720,"a45":-0.0180,"a56":-0.0180},
      {"s":23740,"a45":-0.0230,"a56":-0.0230},{"s":26300,"a45":0.0110,"a56":0.0110},{"s":26540,"a45":0.0074,"a56":0.0074},{"s":26480,"a45":0.0003,"a56":0.0003},
      {"s":26410,"a45":-0.0090,"a56":-0.0090},{"s":26550,"a45":-0.0158,"a56":-0.0158},{"s":26370,"a45":-0.0229,"a56":-0.0229}
    ]
  },
  "vconcat": [
    {
      "width": 844,
      "height": 284,
      "layer": [
        {
          "data": {"name": "ips"},
          "mark": {"type": "rule", "color": "#6e6e6e", "strokeWidth": 1.6, "strokeDash": [1.6, 3]},
          "encoding": {
            "x": {"field": "s", "type": "quantitative", "scale": {"domain": [-1270, 27675], "nice": false, "zero": false},
                  "axis": {"orient": "top", "labels": false, "ticks": false, "title": null}}
          }
        },
        {
          "data": {"name": "twiss"},
          "transform": [{"fold": ["a34", "a45", "a56"], "as": ["knob", "v"]}],
          "mark": {"type": "point", "filled": false, "strokeWidth": 1.3, "opacity": 1},
          "encoding": {
            "x": {"field": "s", "type": "quantitative",
                  "axis": {"orient": "bottom", "values": [200, 3530, 6860, 10180, 13500, 16830, 20130, 23460], "ticks": false, "tickSize": 0, "labelPadding": 6, "title": null,
                           "labelExpr": "{'200':'IP2','3530':'IP3','6860':'IP4','10180':'IP5','13500':'IP6','16830':'IP7','20130':'IP8','23460':'IP1'}[datum.value]"}},
            "y": {"field": "v", "type": "quantitative", "scale": {"domain": [-0.05, 0.05], "nice": false, "zero": false},
                  "axis": {"values": [-0.04, -0.02, 0, 0.02, 0.04], "format": ".2f", "title": "Δ(Δβₓ/βₓ)"}},
            "color": {"field": "knob", "type": "nominal", "scale": {"domain": ["a34", "a45", "a56"], "range": ["#ff7f0e", "#2ca02c", "#d62728"]},
                      "legend": {"labelExpr": "'kqtf.' + datum.label + 'b1'"}},
            "shape": {"field": "knob", "type": "nominal", "scale": {"domain": ["a34", "a45", "a56"], "range": ["square", "circle", "triangle-right"]},
                      "legend": {"labelExpr": "'kqtf.' + datum.label + 'b1'"}},
            "size": {"field": "knob", "type": "ordinal", "legend": null, "scale": {"domain": ["a34", "a45", "a56"], "range": [110, 135, 175]}},
            "order": {"field": "knob", "sort": "ascending"}
          }
        }
      ],
      "resolve": {"axis": {"x": "independent"}}
    },
    {
      "width": 844,
      "height": 284,
      "layer": [
        {
          "data": {"name": "ips"},
          "mark": {"type": "rule", "color": "#6e6e6e", "strokeWidth": 1.6, "strokeDash": [1.6, 3]},
          "encoding": {
            "x": {"field": "s", "type": "quantitative", "scale": {"domain": [-1270, 27675], "nice": false, "zero": false},
                  "axis": {"orient": "top", "labels": false, "ticks": false, "title": null}}
          }
        },
        {
          "data": {"name": "twiss"},
          "transform": [{"fold": ["y34", "y45", "y56"], "as": ["knob", "v"]}],
          "mark": {"type": "point", "filled": true, "opacity": 1},
          "encoding": {
            "x": {"field": "s", "type": "quantitative",
                  "axis": {"orient": "bottom", "values": [0, 5000, 10000, 15000, 20000, 25000], "format": "d", "labelFlush": false, "title": "Longitudinal location [m]"}},
            "y": {"field": "v", "type": "quantitative", "scale": {"domain": [-0.05, 0.05], "nice": false, "zero": false},
                  "axis": {"values": [-0.04, -0.02, 0, 0.02, 0.04], "format": ".2f", "title": "Δ(Δβᵧ/βᵧ)"}},
            "color": {"field": "knob", "type": "nominal", "legend": null, "scale": {"domain": ["y34", "y45", "y56"], "range": ["#ff7f0e", "#2ca02c", "#d62728"]}},
            "shape": {"field": "knob", "type": "nominal", "legend": null, "scale": {"domain": ["y34", "y45", "y56"], "range": ["square", "circle", "triangle-right"]}},
            "size": {"field": "knob", "type": "ordinal", "legend": null, "scale": {"domain": ["y34", "y45", "y56"], "range": [150, 170, 240]}},
            "order": {"field": "knob", "sort": "ascending"}
          }
        }
      ],
      "resolve": {"axis": {"x": "independent"}}
    }
  ],
  "config": {
    "view": {"stroke": null},
    "font": "DejaVu Sans",
    "axis": {
      "labelFont": "DejaVu Sans", "titleFont": "DejaVu Sans", "labelFontSize": 19, "titleFontSize": 19, "titleFontWeight": "normal",
      "labelColor": "black", "titleColor": "black", "domainColor": "black", "tickColor": "black",
      "domainWidth": 1.8, "tickWidth": 1.4, "tickSize": 8, "labelPadding": 3, "grid": false, "titlePadding": 5
    },
    "legend": {
      "orient": "none", "legendX": 223, "legendY": -45, "direction": "horizontal", "title": null,
      "labelFont": "DejaVu Sans", "labelFontSize": 21, "labelColor": "black",
      "symbolSize": 80, "symbolStrokeWidth": 1.5, "labelOffset": 25, "columnPadding": 62, "padding": 0
    }
  }
}
